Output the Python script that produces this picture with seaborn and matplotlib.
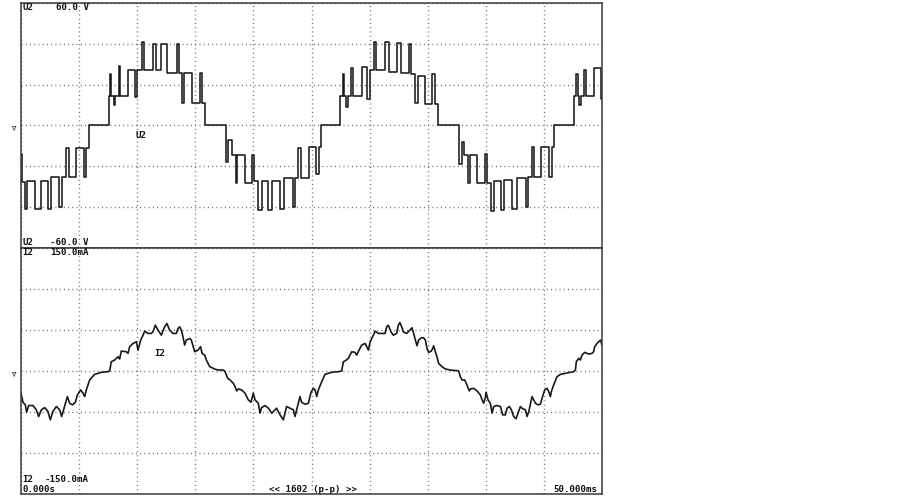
import matplotlib
matplotlib.use("Agg")
import matplotlib.pyplot as plt
import pandas as pd
import seaborn as sns

# U2 voltage: switching instants (ms) and the level held until the next instant (V)
u2_t = [0.00, 0.05, 0.37, 0.52, 1.23, 1.69, 2.32, 2.61, 3.24, 3.56, 3.90, 4.10, 4.76, 5.42, 5.62,
        5.82, 7.54, 7.63, 7.77, 7.97, 8.12, 8.40, 8.52, 9.21, 9.78, 10.01, 10.41, 10.59, 11.36,
        11.65, 12.08, 12.58, 13.40, 13.60, 13.89, 14.06, 14.69, 15.40, 15.55, 15.84, 17.64,
        17.79, 18.13, 18.48, 18.59, 19.28, 19.91, 20.08, 20.43, 20.72, 21.29, 21.63, 22.29,
        22.66, 23.44, 23.58, 23.87, 24.07, 24.79, 25.39, 25.62, 25.85, 27.48, 27.68, 27.82,
        27.97, 28.14, 28.43, 28.57, 29.35, 29.78, 30.06, 30.35, 30.55, 31.35, 31.70, 32.36,
        32.73, 33.36, 33.59, 33.94, 34.17, 34.79, 35.37, 35.60, 35.89, 37.67, 37.95, 38.12,
        38.50, 38.61, 39.27, 39.93, 40.08, 40.42, 40.71, 41.28, 41.57, 42.28, 42.71, 43.43,
        43.66, 43.95, 44.15, 44.72, 45.44, 45.67, 45.87, 47.59, 47.73, 47.90, 48.05, 48.19,
        48.45, 48.62, 49.31, 49.88, 50.00]
u2_v = [-14, -27.6, -41, -27, -41, -27, -41, -25, -40, -25, -11, -25, -11, -25, -11,
        0, 14.6, 25, 14.6, 10, 14.6, 29, 14.6, 27, 14, 27, 41, 27, 40,
        27, 40, 25.5, 40, 25.5, 11, 25.5, 11, 25.5, 11, 0, -18,
        -7, -14.6, -28, -14.6, -28, -14.6, -27, -41.5, -27, -41.5, -27, -41,
        -25.5, -40, -25.5, -11, -25.5, -10.6, -24, -10.6, 0, 14.6, 25, 14.6,
        9, 14.6, 28, 14.6, 28.5, 13, 27, 41, 27, 41, 26, 40.5,
        25.5, 40, 25, 11, 24, 10.6, 25, 10.6, 0, -19, -8, -14.6,
        -28, -14.6, -28, -14, -28, -42, -27, -41.5, -26.5, -41, -25.7, -40,
        -25.4, -10.6, -25.4, -10.6, -25, -10.6, 0, 14.6, 25, 14.6, 9.8, 14.6,
        27, 14.6, 28, 13, 13]

# I2 current samples (ms, mA)
i2_t = [0.00, 0.17, 0.37, 0.49, 0.66, 1.03, 1.32, 1.52, 1.75, 2.04, 2.32, 2.52, 2.75, 3.04,
        3.33, 3.50, 3.70, 3.99, 4.19, 4.42, 4.68, 4.85, 5.13, 5.34, 5.48, 5.62, 5.91, 6.34,
        6.91, 7.49, 7.63, 7.77, 8.06, 8.35, 8.49, 8.63, 9.06, 9.21, 9.35, 9.64, 9.93, 10.07,
        10.30, 10.50, 10.64, 10.93, 11.22, 11.36, 11.56, 11.79, 12.08, 12.36, 12.56, 12.79,
        13.08, 13.37, 13.51, 13.65, 13.80, 13.94, 14.08, 14.23, 14.52, 14.66, 14.95, 15.23,
        15.46, 15.58, 15.81, 15.95, 16.24, 16.67, 16.95, 17.41, 17.56, 17.79, 17.99, 18.13,
        18.27, 18.42, 18.56, 18.70, 18.99, 19.28, 19.56, 19.79, 19.99, 20.14, 20.42, 20.57,
        20.71, 21.00, 21.29, 21.58, 21.86, 22.00, 22.29, 22.58, 22.72, 22.86, 23.15, 23.44,
        23.58, 23.72, 24.01, 24.15, 24.44, 24.73, 24.96, 25.16, 25.31, 25.45, 25.59, 25.88,
        26.16, 26.74, 27.31, 27.60, 27.74, 27.88, 28.17, 28.46, 28.74, 28.89, 29.09, 29.32,
        29.61, 29.90, 30.04, 30.33, 30.47, 30.76, 31.04, 31.33, 31.47, 31.61, 31.84, 32.04,
        32.33, 32.47, 32.61, 32.76, 32.90, 33.19, 33.33, 33.65, 33.79, 33.94, 34.08, 34.22,
        34.45, 34.65, 34.80, 34.94, 35.08, 35.31, 35.43, 35.51, 35.66, 35.80, 35.94, 36.23,
        36.52, 36.95, 37.52, 37.66, 37.81, 37.95, 38.18, 38.38, 38.58, 38.67, 38.96, 39.25,
        39.53, 39.68, 39.82, 39.96, 40.02, 40.19, 40.39, 40.54, 40.68, 40.97, 41.26, 41.45,
        41.68, 41.83, 42.03, 42.20, 42.40, 42.60, 42.77, 42.98, 43.12, 43.41, 43.55, 43.70,
        43.84, 43.98, 44.12, 44.27, 44.50, 44.70, 44.84, 45.07, 45.27, 45.41, 45.56, 45.64,
        45.84, 46.13, 46.42, 46.85, 47.28, 47.57, 47.71, 47.79, 47.99, 48.14, 48.28, 48.51,
        48.71, 48.86, 49.14, 49.28, 49.37, 49.57, 49.77, 49.89, 50.00]
i2_ma = [-27.1, -38.1, -41.3, -50.2, -42.1, -42.1, -47.4, -55.5, -47.4, -44.6, -49.4, -59.5, -49.4, -43.3,
         -47.4, -55.5, -45.4, -31.2, -39.3, -41.3, -38.1, -29.2, -23.1, -27.1, -31.2, -23.1, -10.9, -4.1,
         -1.6, -0.8, 0.0, 11.3, 13.4, 17.4, 14.6, 24.3, 23.5, 21.5, 29.6, 33.6, 35.6, 25.5,
         37.7, 43.7, 48.6, 45.8, 45.8, 47.8, 55.9, 49.8, 43.7, 53.9, 57.9, 49.8,
         45.8, 45.8, 51.8, 53.9, 49.8, 41.7, 31.6, 37.7, 39.7, 37.7, 23.5, 25.5,
         29.6, 21.5, 19.4, 13.4, 5.3, 2.4, 1.2, 1.2, -0.8, -8.9, -10.9, -13.0,
         -15.0, -19.0, -24.3, -21.9, -23.1, -27.1, -35.2, -38.1, -27.1, -35.2, -39.3, -51.4,
         -44.6, -42.1, -45.4, -51.4, -47.4, -45.4, -53.5, -59.5, -51.4, -43.3, -45.4, -47.4,
         -55.5, -47.4, -31.2, -38.1, -40.5, -39.3, -25.9, -21.1, -23.1, -31.2, -23.1, -13.0,
         -4.1, -1.6, -0.8, 0.0, 11.3, 12.2, 15.4, 23.5, 22.7, 19.4, 25.5, 31.6,
         33.6, 25.5, 35.6, 43.7, 48.6, 45.8, 45.8, 45.8, 53.9, 55.9, 47.8, 43.7,
         45.8, 55.9, 59.1, 53.9, 47.8, 45.8, 47.8, 52.7, 45.8, 37.7, 30.8, 37.7,
         40.5, 40.5, 37.7, 27.5, 22.7, 24.3, 27.5, 30.8, 23.5, 17.4, 9.3, 5.3,
         2.4, 1.2, 0.4, 0.0, -6.9, -10.9, -10.9, -17.0, -24.3, -21.9, -21.1, -24.3,
         -29.2, -35.2, -39.3, -32.4, -25.9, -35.2, -39.3, -51.4, -43.3, -42.1, -43.3, -53.5,
         -53.5, -45.4, -43.3, -47.4, -55.5, -58.3, -51.4, -43.3, -45.4, -47.4, -55.5, -49.4,
         -40.5, -31.2, -35.2, -39.3, -41.3, -40.5, -33.2, -23.1, -21.1, -25.1, -31.2, -25.1,
         -17.0, -6.9, -4.1, -2.8, -1.6, -0.8, 1.2, 11.3, 15.4, 13.4, 19.4, 22.7,
         21.5, 20.7, 21.5, 23.5, 29.6, 33.6, 36.5, 37.7, 30.8]

time_ticks = [0, 5, 10, 15, 20, 25, 30, 35, 40, 45, 50]
u2_ticks = [-60, -40, -20, 0, 20, 40, 60]
i2_ticks = [-150, -100, -50, 0, 50, 100, 150]

sns.set_theme(style="white")
plt.rcParams["font.family"] = ["DejaVu Sans Mono", "DejaVu Sans"]

W, H = 903, 498
fig = plt.figure(figsize=(W / 100, H / 100), dpi=100)
fig.patch.set_facecolor("white")

left, right = 21, 602
ax_u = fig.add_axes([left / W, (H - 248) / H, (right - left) / W, 245 / H])
ax_i = fig.add_axes([left / W, (H - 494) / H, (right - left) / W, 246 / H])

trace = "#1a1a1a"
u2 = pd.DataFrame({"t": u2_t, "v": u2_v})
i2 = pd.DataFrame({"t": i2_t, "i": i2_ma})
sns.lineplot(data=u2, x="t", y="v", ax=ax_u, color=trace, linewidth=1.15,
             drawstyle="steps-post", estimator=None, sort=False)
sns.lineplot(data=i2, x="t", y="i", ax=ax_i, color=trace, linewidth=1.2,
             estimator=None, sort=False)

for ax, yt in [(ax_u, u2_ticks), (ax_i, i2_ticks)]:
    ax.set_xlim(0, 50)
    ax.set_ylim(yt[0], yt[-1])
    ax.set_xticks(time_ticks)
    ax.set_yticks(yt)
    ax.tick_params(length=0, labelbottom=False, labelleft=False)
    ax.set_xlabel("")
    ax.set_ylabel("")
    ax.grid(True, color="#6e6e6e", linewidth=1.0, linestyle=(0, (0.75, 2.3)))
    ax.set_axisbelow(True)
    for s in ax.spines.values():
        s.set_color("#3a3a3a")
        s.set_linewidth(1.1)

fs = 6.6
kw = dict(fontsize=fs, fontweight="bold", color="#111111", va="center")


def ftext(x, y, s, ha="left"):
    fig.text(x / W, 1 - y / H, s, ha=ha, **kw)


ftext(22.5, 7.5, "U2")
ftext(89, 7.5, "60.0 V", ha="right")
ftext(22.5, 242.5, "U2")
ftext(89, 242.5, "-60.0 V", ha="right")
ftext(22.5, 252.5, "I2")
ftext(89, 252.5, "150.0mA", ha="right")
ftext(22.5, 479, "I2")
ftext(89, 479, "-150.0mA", ha="right")
ftext(22.5, 489, "0.000s")
ftext(313, 489, "<< 1602 (p-p) >>", ha="center")
ftext(597.5, 489, "50.000ms", ha="right")
ftext(141, 135, "U2", ha="center")
ftext(159.5, 354, "I2", ha="center")

# zero-level markers at the left edge
for y in (127, 373):
    fig.text(15 / W, 1 - y / H, "\u22b2", fontsize=6.5, color="#333333",
             ha="center", va="center", rotation=90)

fig.savefig("out.png", dpi=100, facecolor="white")
